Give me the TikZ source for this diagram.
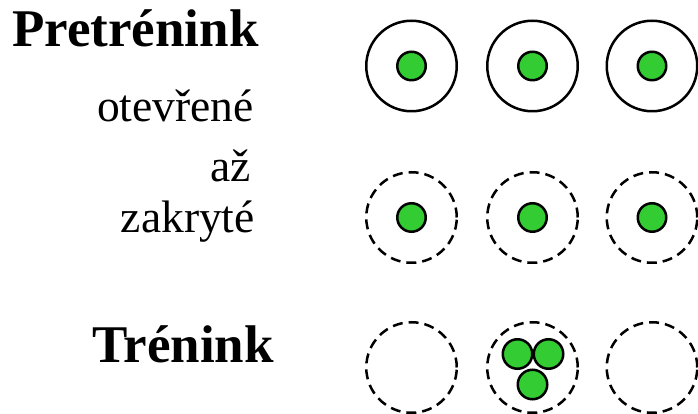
\documentclass[tikz,border=0pt]{standalone}
\usepackage{fontspec}
\setmainfont{Liberation Serif}
\definecolor{cellgreen}{HTML}{33CC33}
\tikzset{
  x=1pt, y=1pt,
  ring/.style={circle, draw=black, line width=2.5pt, minimum size=90.5pt, inner sep=0pt},
  openring/.style={ring},
  hiddenring/.style={ring, dash pattern=on 10pt off 6pt},
  cell/.style={circle, draw=black, line width=2.5pt, fill=cellgreen, minimum size=28.5pt, inner sep=0pt},
  bigcell/.style={cell, minimum size=29.5pt},
  heading/.style={inner sep=0pt, anchor=base west, font=\fontsize{53}{60}\selectfont\bfseries},
  label/.style={inner sep=0pt, anchor=base east, font=\fontsize{45.5}{52}\selectfont}
}
\begin{document}
\begin{tikzpicture}
\useasboundingbox (0,0) rectangle (698,414);

% row labels
\node[heading] (pre) at (12,367) {Pretrénink};
\node[label] (open) at (254,292) {otevřené};
\node[label] (until) at (251,232) {až};
\node[label] (covered) at (255,181) {zakryté};
\node[heading] (train) at (92,51) {Trénink};

% pre-training, open rings
\node[openring] (r11) at (411.5,348) {};
\node[openring] (r12) at (532.5,348) {};
\node[openring] (r13) at (652,348) {};
\node[cell] (c11) at (r11) {};
\node[cell] (c12) at (r12) {};
\node[cell] (c13) at (r13) {};

% pre-training, covered rings
\node[hiddenring] (r21) at (411.5,196.5) {};
\node[hiddenring] (r22) at (532.5,196.5) {};
\node[hiddenring] (r23) at (652,196.5) {};
\node[cell] (c21) at (r21) {};
\node[cell] (c22) at (r22) {};
\node[cell] (c23) at (r23) {};

% training
\node[hiddenring] (r31) at (411.5,46.5) {};
\node[hiddenring] (r32) at (532.5,46.5) {};
\node[hiddenring] (r33) at (652,46.5) {};
\node[bigcell] (t1) at (517.5,60) {};
\node[bigcell] (t2) at (548.5,60) {};
\node[bigcell] (t3) at (532.5,29.5) {};
\end{tikzpicture}
\end{document}
